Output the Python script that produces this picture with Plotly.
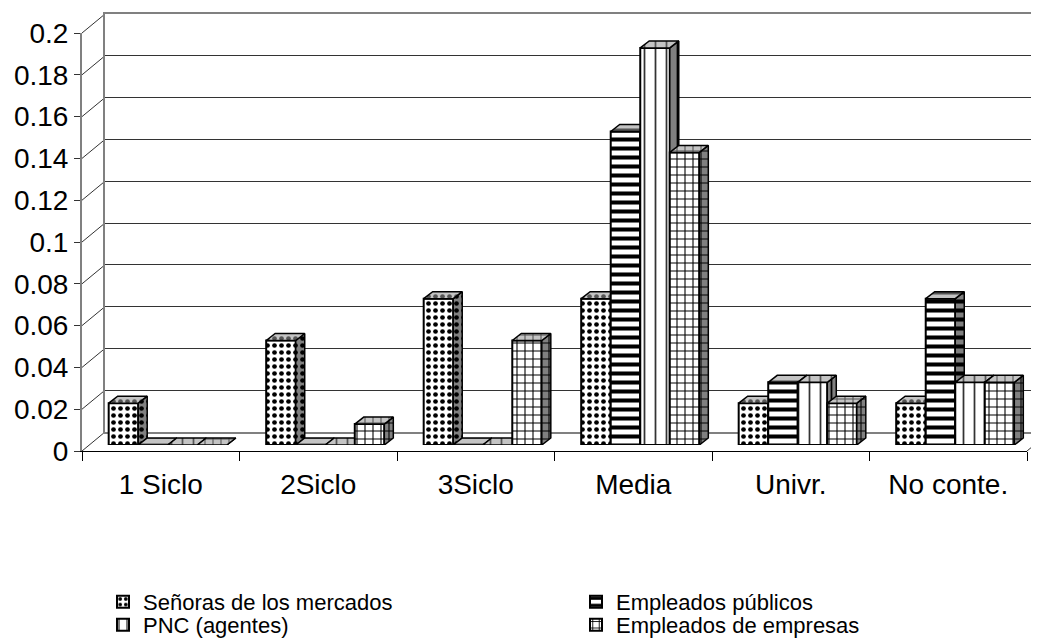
import plotly.graph_objects as go

# ---------------- data ----------------
categories = ["1 Siclo", "2Siclo", "3Siclo", "Media", "Univr.", "No conte."]
series_names = ["Señoras de los mercados", "Empleados públicos", "PNC (agentes)", "Empleados de empresas"]
senoras = [0.02, 0.05, 0.07, 0.07, 0.02, 0.02]
publicos = [0, 0, 0, 0.15, 0.03, 0.07]
pnc = [0, 0, 0, 0.19, 0.03, 0.03]
empresas = [0, 0.01, 0.05, 0.14, 0.02, 0.03]
y_ticks = [0, 0.02, 0.04, 0.06, 0.08, 0.1, 0.12, 0.14, 0.16, 0.18, 0.2]
y_tick_labels = ["0", "0.02", "0.04", "0.06", "0.08", "0.1", "0.12", "0.14", "0.16", "0.18", "0.2"]

series_values = [senoras, publicos, pnc, empresas]

# ---------------- styling ----------------
WIN_W, WIN_H = 1039, 641
OFF = 8  # default page body margin
W, H = WIN_W - OFF, WIN_H - OFF
FONT = "Liberation Sans, Arial, sans-serif"
YMAX = 0.2


def fx(p):
    return (p - OFF) / W


def fy(p):
    return 1 - (p - OFF) / H


front_x = [fx(82), fx(1027)]
front_y = [fy(451), fy(33)]
back_x = [fx(105), 1.0]
back_y = [fy(432), fy(14)]
bar_x = [fx(89), fx(1034)]
bar_y = [fy(445), fy(27)]

patterns = [
    dict(shape=".", size=7, solidity=0.36, fgcolor="black", bgcolor="white", fillmode="replace"),
    dict(shape="-", size=9, solidity=0.45, fgcolor="black", bgcolor="white", fillmode="replace"),
    dict(shape="|", size=11, solidity=0.16, fgcolor="#333333", bgcolor="white", fillmode="replace"),
    dict(shape="+", size=8, solidity=0.25, fgcolor="black", bgcolor="white", fillmode="replace"),
]

bw = 0.1875          # bar width in category units
dxd = 9 / 157.5      # depth offset (x, category units)
dyd = 7 * YMAX / 418  # depth offset (y, data units)

fig = go.Figure()

# front axes (labels) - invisible anchor trace
fig.add_trace(go.Scatter(x=categories, y=[0] * len(categories), mode="markers",
                         marker=dict(opacity=0), hoverinfo="skip", showlegend=False,
                         xaxis="x", yaxis="y"))
# back wall - invisible anchor trace
fig.add_trace(go.Scatter(x=[0], y=[0], mode="markers", marker=dict(opacity=0),
                         hoverinfo="skip", showlegend=False, xaxis="x2", yaxis="y2"))

legend_ids = ["legend", "legend2", "legend3", "legend4"]

for i, (name, vals) in enumerate(zip(series_names, series_values)):
    xa = "x%d" % (3 + i)
    ya = "y%d" % (3 + i)
    xs = [c + (i - 1.5) * bw for c in range(len(categories))]
    fig.add_trace(go.Bar(
        x=xs, y=vals, width=bw, name=name, xaxis=xa, yaxis=ya,
        marker=dict(color="white", pattern=patterns[i], line=dict(color="black", width=2)),
        legend=legend_ids[i], hoverinfo="skip",
    ))
    # side and top faces of the pseudo-3D bars
    sx, sy, tx, ty = [], [], [], []
    for xc, v in zip(xs, vals):
        x0 = xc - bw / 2
        x1 = xc + bw / 2
        sx += [x1, x1 + dxd, x1 + dxd, x1, x1, None]
        sy += [0, dyd, v + dyd, v, 0, None]
        tx += [x0, x0 + dxd, x1 + dxd, x1, x0, None]
        ty += [v, v + dyd, v + dyd, v, v, None]
    side_pat = dict(patterns[i])
    side_pat.update(bgcolor="#808080", fgcolor="black")
    top_pat = dict(patterns[i])
    top_pat.update(bgcolor="#c4c4c4", fgcolor="#555555")
    fig.add_trace(go.Scatter(x=sx, y=sy, mode="lines", fill="toself", fillcolor="#808080",
                             fillpattern=side_pat, line=dict(color="black", width=1.5),
                             hoverinfo="skip", showlegend=False, xaxis=xa, yaxis=ya,
                             cliponaxis=False))
    fig.add_trace(go.Scatter(x=tx, y=ty, mode="lines", fill="toself", fillcolor="#c4c4c4",
                             fillpattern=top_pat, line=dict(color="black", width=1.5),
                             hoverinfo="skip", showlegend=False, xaxis=xa, yaxis=ya,
                             cliponaxis=False))

layout = dict(
    width=W, height=H,
    autosize=False,
    margin=dict(l=0, r=0, t=0, b=0, pad=0, autoexpand=False),
    paper_bgcolor="white",
    plot_bgcolor="rgba(0,0,0,0)",
    font=dict(family=FONT, color="black", size=28),
    barmode="overlay",
    showlegend=True,
    xaxis=dict(domain=front_x, anchor="y", type="category", categoryarray=categories,
               range=[-0.5, len(categories) - 0.5], showline=True, linecolor="black",
               linewidth=1, ticks="outside", tickson="boundaries", ticklen=9,
               tickcolor="black", tickwidth=1, showgrid=False, zeroline=False,
               tickfont=dict(size=28, family=FONT), ticklabelstandoff=8, automargin=False),
    yaxis=dict(domain=front_y, anchor="x", range=[0, YMAX], tickvals=y_ticks,
               ticktext=y_tick_labels, showline=True, linecolor="#808080", linewidth=2,
               ticks="outside", ticklen=6, tickcolor="#333333", tickwidth=1,
               showgrid=False, zeroline=False, tickfont=dict(size=28, family=FONT),
               automargin=False),
    xaxis2=dict(domain=back_x, anchor="y2", range=[0, 1], showline=True,
                linecolor="#808080", linewidth=2, mirror=True, showgrid=False,
                zeroline=False, showticklabels=False, ticks="", automargin=False),
    yaxis2=dict(domain=back_y, anchor="x2", range=[0, YMAX], tickvals=y_ticks[1:-1],
                showgrid=True, gridcolor="#333333", gridwidth=1, showline=True,
                linecolor="#808080", linewidth=2, zeroline=False,
                showticklabels=False, ticks="", automargin=False),
)

for i in range(4):
    xk = "xaxis%d" % (3 + i)
    yk = "yaxis%d" % (3 + i)
    xd = dict(domain=bar_x, anchor="y%d" % (3 + i), range=[-0.5, len(categories) - 0.5],
              visible=False, fixedrange=True)
    yd = dict(domain=bar_y, anchor="x%d" % (3 + i), range=[0, YMAX], visible=False,
              fixedrange=True)
    if i > 0:
        xd["overlaying"] = "x3"
        yd["overlaying"] = "y3"
    layout[xk] = xd
    layout[yk] = yd

# legends: 2 x 2 grid
leg_pos = [(143, 602), (616, 602), (143, 625), (616, 625)]
for lid, (lx, ly) in zip(legend_ids, leg_pos):
    layout[lid] = dict(x=fx(lx - 40), y=fy(ly), xanchor="left", yanchor="middle",
                       bgcolor="rgba(0,0,0,0)", font=dict(size=22, family=FONT, color="black"),
                       itemwidth=30, tracegroupgap=0)

fig.update_layout(**layout)

# depth connectors from front axis ticks to back wall
shapes = []
for v in y_ticks:
    yf = front_y[0] + (front_y[1] - front_y[0]) * v / YMAX
    yb = back_y[0] + (back_y[1] - back_y[0]) * v / YMAX
    shapes.append(dict(type="line", xref="paper", yref="paper", x0=front_x[0], y0=yf,
                       x1=back_x[0], y1=yb, line=dict(color="#333333", width=1), layer="below"))
# right floor edge
shapes.append(dict(type="line", xref="paper", yref="paper", x0=front_x[1], y0=front_y[0],
                   x1=front_x[1] + (back_x[0] - front_x[0]), y1=back_y[0],
                   line=dict(color="#333333", width=1), layer="below"))
fig.update_layout(shapes=shapes)

fig.write_html("out.html")
